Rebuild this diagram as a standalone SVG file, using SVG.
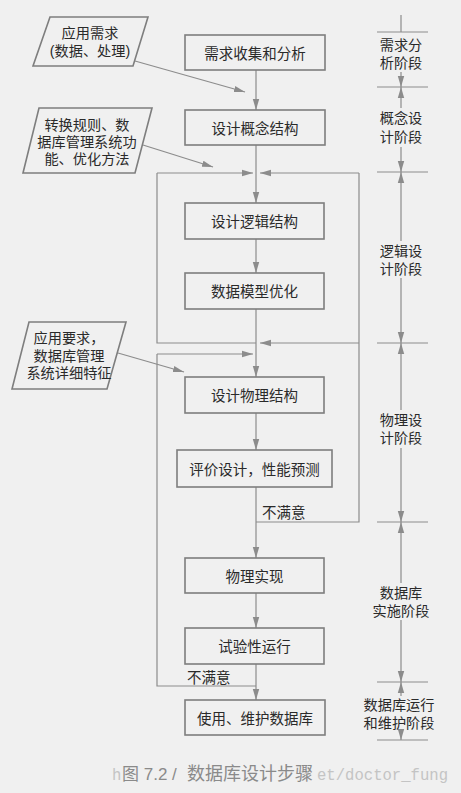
<svg xmlns="http://www.w3.org/2000/svg" width="461" height="793" viewBox="0 0 461 793">
<defs>
<marker id="ah" markerWidth="12" markerHeight="8" refX="11" refY="4" orient="auto" markerUnits="userSpaceOnUse">
<path d="M0,0.8 L11,4 L0,7.2 z" fill="#8c8c8c"/>
</marker>
</defs>
<style>
.bx{fill:none;stroke:#7e7e7e;stroke-width:1.6}
.pg{fill:none;stroke:#7e7e7e;stroke-width:1.6}
.ln{fill:none;stroke:#8c8c8c;stroke-width:1.2}
.ar{fill:none;stroke:#8c8c8c;stroke-width:1.2;marker-end:url(#ah)}
.t{font-family:"Liberation Sans","Noto Sans CJK SC",sans-serif;font-size:14.5px;fill:#2a2a2a;text-anchor:middle;dominant-baseline:central}
.s{font-family:"Liberation Sans","Noto Sans CJK SC",sans-serif;font-size:14.2px;fill:#2a2a2a;text-anchor:middle}
.tl{font-family:"Liberation Sans","Noto Sans CJK SC",sans-serif;font-size:14.5px;fill:#2a2a2a;dominant-baseline:central}
.cap{font-family:"Liberation Sans","Noto Sans CJK SC",sans-serif;font-size:17px;fill:#8a8a8a}
.wm{font-family:"Liberation Mono",monospace;font-size:15.6px;fill:#c4c4c4}
</style>
<rect width="461" height="793" fill="#f0f0f0"/>

<g id="connectors">
<line class="ar" x1="256" y1="70" x2="256" y2="110"/>
<line class="ar" x1="256" y1="145" x2="256" y2="203"/>
<line class="ar" x1="256" y1="239" x2="256" y2="273"/>
<line class="ar" x1="256" y1="309" x2="256" y2="377"/>
<line class="ar" x1="256" y1="413" x2="256" y2="450"/>
<line class="ar" x1="256" y1="487" x2="256" y2="558"/>
<line class="ar" x1="256" y1="593" x2="256" y2="628"/>
<line class="ar" x1="256" y1="664" x2="256" y2="700"/>
<line class="ar" x1="135" y1="61" x2="245" y2="92"/>
<line class="ar" x1="143" y1="145" x2="213" y2="167"/>
<line class="ar" x1="118" y1="353" x2="184" y2="372"/>
<polyline class="ln" points="256,522 359,522 359,173"/>
<line class="ar" x1="359" y1="173" x2="260" y2="173"/>
<line class="ar" x1="359" y1="343" x2="260" y2="343"/>
<polyline class="ln" points="256,343 157,343 157,173"/>
<line class="ar" x1="157" y1="173" x2="253" y2="173"/>
<polyline class="ln" points="256,686 157,686 157,354"/>
<line class="ar" x1="157" y1="354" x2="253" y2="354"/>
<text class="tl" x="262" y="513">不满意</text>
<text class="tl" x="187" y="678">不满意</text>
</g>

<g id="n1"><rect class="bx" x="185" y="35" width="140" height="35"/><text class="t" x="255" y="53.5">需求收集和分析</text></g>
<g id="n2"><rect class="bx" x="185" y="110" width="140" height="35"/><text class="t" x="255" y="128.5">设计概念结构</text></g>
<g id="n3"><rect class="bx" x="185" y="203" width="139" height="36"/><text class="t" x="254.5" y="222">设计逻辑结构</text></g>
<g id="n4"><rect class="bx" x="185" y="273" width="139" height="36"/><text class="t" x="254.5" y="292">数据模型优化</text></g>
<g id="n5"><rect class="bx" x="185" y="377" width="139" height="36"/><text class="t" x="254.5" y="396">设计物理结构</text></g>
<g id="n6"><rect class="bx" x="177" y="450" width="155" height="37"/><text class="t" x="254.5" y="469.5">评价设计，性能预测</text></g>
<g id="n7"><rect class="bx" x="185" y="558" width="139" height="35"/><text class="t" x="254.5" y="576.5">物理实现</text></g>
<g id="n8"><rect class="bx" x="185" y="628" width="139" height="36"/><text class="t" x="254.5" y="647">试验性运行</text></g>
<g id="n9"><rect class="bx" x="185" y="700" width="140" height="35"/><text class="t" x="255" y="718.5">使用、维护数据库</text></g>

<g id="p1"><polygon class="pg" points="50,17 148,17 133,66 33,66"/><text class="s" x="90" y="38">应用需求<tspan x="90" dy="17.5">(数据、处理)</tspan></text></g>
<g id="p2"><polygon class="pg" points="39,108 152,108 135,173 23,173"/><text class="s" x="87" y="130">转换规则、数<tspan x="87" dy="17">据库管理系统功</tspan><tspan x="87" dy="17">能、优化方法</tspan></text></g>
<g id="p3"><polygon class="pg" points="29,322 126,322 107,389 12,389"/><text class="s" x="69" y="343">应用要求，<tspan x="69" dy="17.5">数据库管理</tspan><tspan x="69" dy="17.5">系统详细特征</tspan></text></g>

<g id="stages">
<line class="ln" x1="401" y1="15" x2="401" y2="32"/>
<line class="ln" x1="377" y1="32" x2="428" y2="32"/>
<line class="ln" x1="377" y1="87" x2="428" y2="87"/>
<line class="ln" x1="377" y1="172" x2="428" y2="172"/>
<line class="ln" x1="377" y1="343" x2="428" y2="343"/>
<line class="ln" x1="377" y1="522" x2="428" y2="522"/>
<line class="ln" x1="377" y1="682" x2="428" y2="682"/>
<line class="ln" x1="377" y1="740" x2="428" y2="740"/>
<line class="ar" x1="401" y1="72" x2="401" y2="87"/>
<line class="ar" x1="401" y1="108" x2="401" y2="87"/>
<line class="ar" x1="401" y1="147" x2="401" y2="172"/>
<line class="ar" x1="401" y1="241" x2="401" y2="172"/>
<line class="ar" x1="401" y1="278" x2="401" y2="343"/>
<line class="ar" x1="401" y1="410" x2="401" y2="343"/>
<line class="ar" x1="401" y1="448" x2="401" y2="522"/>
<line class="ar" x1="401" y1="583" x2="401" y2="522"/>
<line class="ar" x1="401" y1="620" x2="401" y2="682"/>
<line class="ar" x1="401" y1="696" x2="401" y2="682"/>
<line class="ar" x1="401" y1="732" x2="401" y2="740"/>
<text class="s" x="401" y="50">需求分<tspan x="401" dy="18">析阶段</tspan></text>
<text class="s" x="401" y="123">概念设<tspan x="401" dy="19">计阶段</tspan></text>
<text class="s" x="401" y="256">逻辑设<tspan x="401" dy="18">计阶段</tspan></text>
<text class="s" x="401" y="425">物理设<tspan x="401" dy="18">计阶段</tspan></text>
<text class="s" x="401" y="598">数据库<tspan x="401" dy="18">实施阶段</tspan></text>
<text class="s" x="399" y="710">数据库运行<tspan x="399" dy="18">和维护阶段</tspan></text>
</g>

<g id="caption">
<text class="wm" x="112" y="780">h</text>
<text class="cap" x="122" y="780">图 7.2 /</text>
<text class="cap" x="187" y="780" style="font-size:18px">数据库设计步骤</text>
<text class="wm" x="317" y="780">et/doctor_fung</text>
</g>
</svg>
